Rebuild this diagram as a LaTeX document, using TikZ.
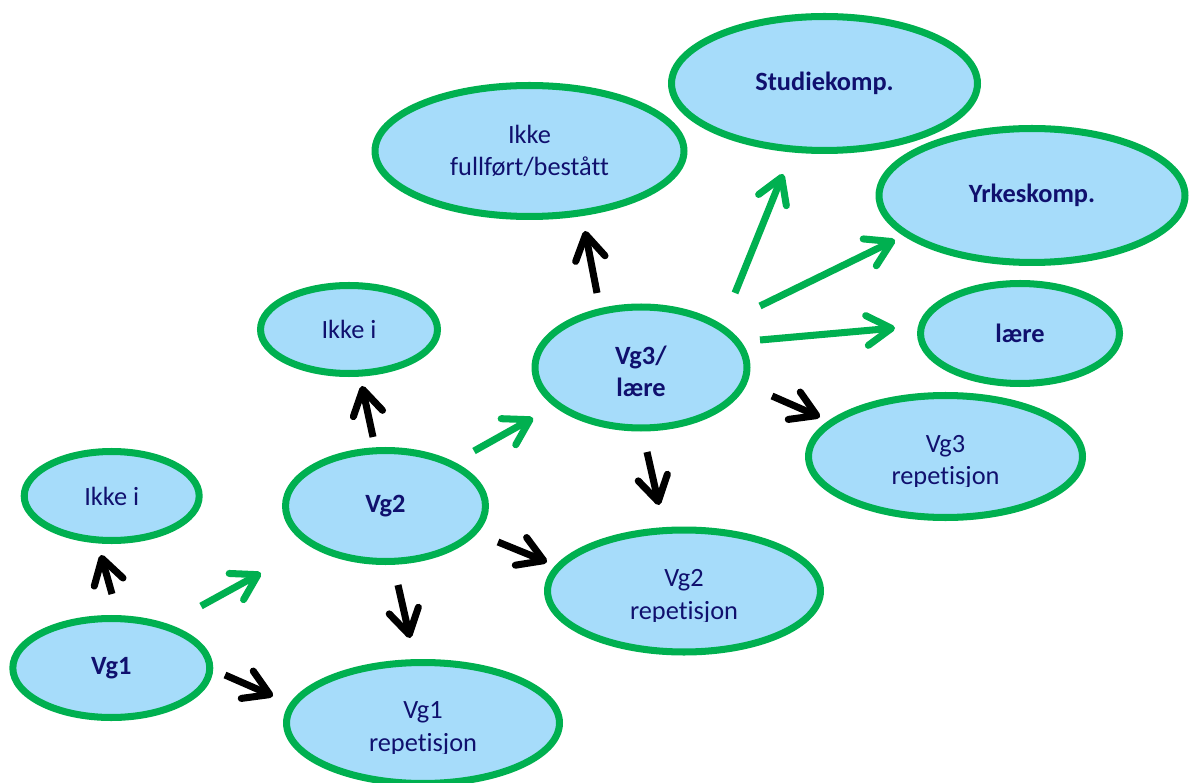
\documentclass[tikz,border=0pt]{standalone}
\usepackage{fontspec}
\setmainfont{Carlito}[Ligatures=NoCommon]
\usepackage{trimclip}
\usetikzlibrary{shapes.geometric,arrows.meta}
\definecolor{egreen}{RGB}{0,176,80}
\definecolor{efill}{RGB}{166,220,250}
\definecolor{etext}{RGB}{16,16,110}
\newcommand{\cutrep}{\clipbox*{0pt -1.2pt {\width} {\height}}{repetisjon}}
\newcommand{\toppad}{\rule{0pt}{15pt}}
\begin{document}
\begin{tikzpicture}[x=0.02cm,y=-0.02cm,
  ell/.style={ellipse, draw=egreen, fill=efill, line width=4pt, inner sep=0pt,
    text=etext, font=\fontsize{15}{18.5}\selectfont, align=center},
  conn/.style={line width=4pt, -{Straight Barb[length=14pt,width=17pt,round]}},
  blk/.style={conn, draw=black},
  grn/.style={conn, draw=egreen}]
\useasboundingbox (0,0) rectangle (1192,783);
% nodes
\node[ell, minimum width=6.12cm, minimum height=2.68cm] (stud) at (824.5,83.5) {\textbf{Studiekomp.}};
\node[ell, minimum width=6.12cm, minimum height=2.68cm] (yrk) at (1032,195.5) {\textbf{Yrkeskomp.}};
\node[ell, minimum width=6.18cm, minimum height=2.62cm] (ikf) at (529.5,151) {Ikke\\fullført/bestått};
\node[ell, minimum width=3.54cm, minimum height=1.76cm] (ikm) at (349,329.5) {Ikke i};
\node[ell, minimum width=3.98cm, minimum height=2.00cm] (laere) at (1020,333.5) {\textbf{lære}};
\node[ell, minimum width=4.24cm, minimum height=2.42cm] (vg3) at (641,367.5) {\toppad\textbf{Vg3/}\\\textbf{lære}};
\node[ell, minimum width=5.48cm, minimum height=2.44cm] (rep3) at (945.5,456.5) {\toppad Vg3\\\cutrep};
\node[ell, minimum width=3.50cm, minimum height=1.78cm] (ikl) at (111.7,496) {Ikke i};
\node[ell, minimum width=4.00cm, minimum height=2.22cm] (vg2) at (385.5,506) {\textbf{Vg2}};
\node[ell, minimum width=5.46cm, minimum height=2.44cm] (rep2) at (684,591) {\toppad Vg2\\\cutrep};
\node[ell, minimum width=3.94cm, minimum height=1.98cm] (vg1) at (111.3,668) {\textbf{Vg1}};
\node[ell, minimum width=5.46cm, minimum height=2.42cm] (rep1) at (423,723) {\toppad Vg1\\\cutrep};
% connector end points
\coordinate (a1s) at (112,594); \coordinate (a1e) at (101,555);
\coordinate (a2s) at (225,675); \coordinate (a2e) at (273,696);
\coordinate (a3s) at (373,437); \coordinate (a3e) at (362,386);
\coordinate (a4s) at (398,585); \coordinate (a4e) at (410,638);
\coordinate (a5s) at (498,542); \coordinate (a5e) at (547,562);
\coordinate (a6s) at (597,293); \coordinate (a6e) at (585,231);
\coordinate (a7s) at (647,452); \coordinate (a7e) at (659,505);
\coordinate (a8s) at (772,396); \coordinate (a8e) at (820,417);
\coordinate (g1s) at (201,606); \coordinate (g1e) at (261,573);
\coordinate (g2s) at (474,451); \coordinate (g2e) at (533,418);
\coordinate (g3s) at (735,293); \coordinate (g3e) at (783,174);
\coordinate (g4s) at (760,306); \coordinate (g4e) at (895,240);
\coordinate (g5s) at (760,340); \coordinate (g5e) at (895,328);
% black connectors
\draw[blk] (a1s) -- (a1e);
\draw[blk] (a2s) -- (a2e);
\draw[blk] (a3s) -- (a3e);
\draw[blk] (a4s) -- (a4e);
\draw[blk] (a5s) -- (a5e);
\draw[blk] (a6s) -- (a6e);
\draw[blk] (a7s) -- (a7e);
\draw[blk] (a8s) -- (a8e);
% green connectors
\draw[grn] (g1s) -- (g1e);
\draw[grn] (g2s) -- (g2e);
\draw[grn] (g3s) -- (g3e);
\draw[grn] (g4s) -- (g4e);
\draw[grn] (g5s) -- (g5e);
\end{tikzpicture}
\end{document}
